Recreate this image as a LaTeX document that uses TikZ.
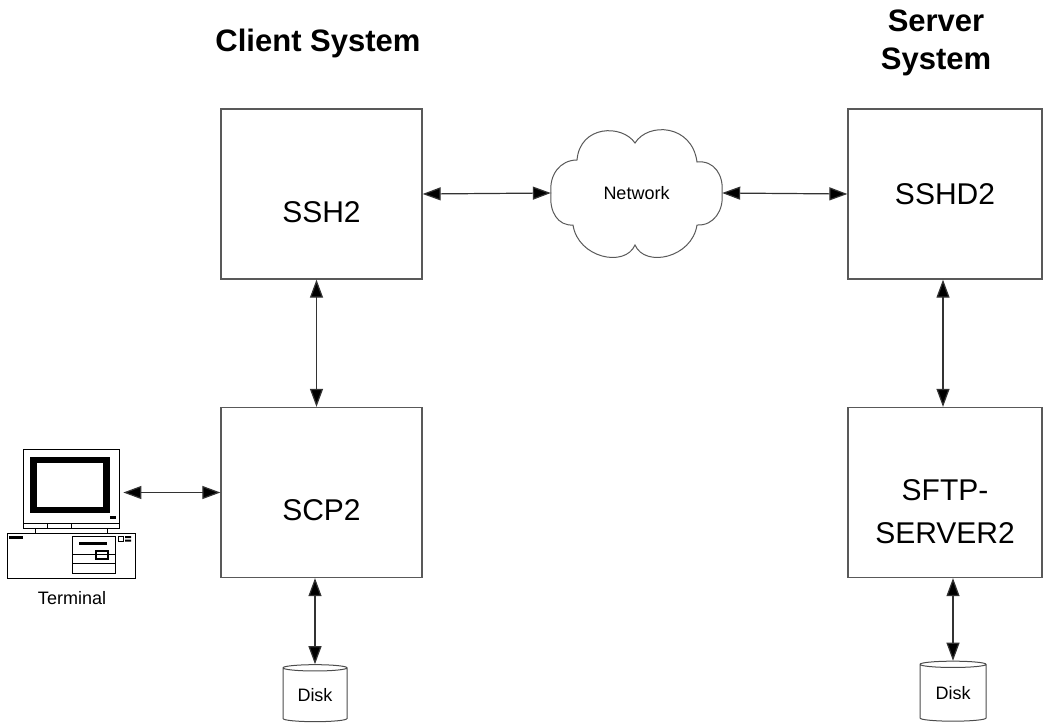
\documentclass[tikz,border=0pt]{standalone}
\usepackage{fontspec}
\setmainfont{Liberation Sans}
\usepackage{tikz}
\usetikzlibrary{positioning,arrows.meta,shapes.geometric}

\tikzset{
	box/.style={draw=black!65, line width=1.3pt, fill=white, minimum width=201pt, minimum height=170pt, inner sep=0pt, font=\fontsize{30}{43}\selectfont},
	boxtext/.style={font=\fontsize{30}{43}\selectfont, align=center, inner sep=0pt},
	title/.style={font=\bfseries\fontsize{31}{38}\selectfont, align=center, inner sep=0pt},
	small/.style={font=\fontsize{18}{20}\selectfont, inner sep=0pt},
	disk/.style={cylinder, shape border rotate=90, aspect=0.18, draw=black!70, line width=1pt, minimum width=64pt, minimum height=57pt, inner sep=0pt, font=\fontsize{18}{20}\selectfont},
	link/.style={<->, line width=1.2pt, draw=black!80},
}

\begin{document}
\begin{tikzpicture}[x=1pt, y=-1pt, >={Triangle[length=18pt,width=13pt,fill=black]}]
	\useasboundingbox (0,0) rectangle (1051,725);

	% titles
	\node[title, anchor=base] (clienttitle) at (318,52) {Client System};
	\node[title, anchor=north] (servertitle) at (936,10) {Server\\System};

	% boxes
	\node[box] (ssh2) at (321.5,194) {};
	\node[boxtext] (ssh2txt) at ([yshift=-18pt]ssh2.center) {SSH2};
	\node[box] (scp2) at (321.5,492.5) {};
	\node[boxtext] (scp2txt) at ([yshift=-18pt]scp2.center) {SCP2};
	\node[box, minimum width=194pt] (sshd2) at (945,194) {SSHD2};
	\node[box, minimum width=194pt] (sftp) at (945,492.5) {};
	\node[boxtext] (sftptxt) at ([yshift=-19pt]sftp.center) {SFTP-\\SERVER2};

	% network cloud
	\draw[black!65, line width=1pt, fill=white] (635,143)
		.. controls (622,124) and (580,125) .. (577,160)
		.. controls (560,160) and (549,175) .. (551,193)
		.. controls (549,212) and (558,226) .. (573,225)
		.. controls (578,258) and (625,268) .. (635,245)
		.. controls (645,268) and (692,258) .. (697,225)
		.. controls (714,226) and (724,210) .. (722,193)
		.. controls (724,175) and (714,160) .. (697,162)
		.. controls (692,124) and (648,122) .. cycle;
	\node[small, minimum width=171pt, minimum height=130pt] (net) at (636.5,193) {Network};

	% disks
	\node[disk] (disk1) at (315,695) {Disk};
	\node[disk, minimum width=66pt, minimum height=60pt] (disk2) at (953,693) {Disk};

	% terminal
	\node[draw, line width=0.8pt, minimum width=96pt, minimum height=79pt, inner sep=0pt] (term) at (71,488.5) {};
	\fill (30,457) rectangle (110,513);
	\fill[white] (37,463) rectangle (103,507);
	\fill (110,516) rectangle (116,518.5);
	\draw[line width=0.8pt] (23,523) -- (119,523) (47,523) -- (47,528) (71,523) -- (71,528)
		(35,528) -- (35,533) (107,528) -- (107,533);
	\draw[line width=0.8pt] (7,533) rectangle (135,578);
	\fill (9,536) rectangle (23,539);
	\draw[line width=0.8pt] (72,536) rectangle (115,573) (73,554) -- (115,554) (73,563) -- (115,563);
	\fill (79,542) rectangle (107,544.5);
	\draw[line width=1.2pt] (96,551) rectangle (108,559);
	\draw[line width=0.7pt] (118,536) rectangle (123,541);
	\fill (125,536) rectangle (131,538) (125,539.5) rectangle (131,541.5);
	\node[small] (termtxt) at (72,598) {Terminal};

	% connections
	\draw[link] (ssh2.east) -- (net.west);
	\draw[link] (net.east) -- (sshd2.west);
	\draw[link] ([xshift=-5pt]ssh2.south) -- ([xshift=-5pt]scp2.north);
	\draw[link] ([xshift=-2pt]sshd2.south) -- ([xshift=-2pt]sftp.north);
	\draw[link] ([xshift=4pt]term.east |- scp2.west) -- (scp2.west);
	\draw[link] (disk1.north |- scp2.south) -- (disk1.north);
	\draw[link] (disk2.north |- sftp.south) -- (disk2.north);
\end{tikzpicture}
\end{document}
